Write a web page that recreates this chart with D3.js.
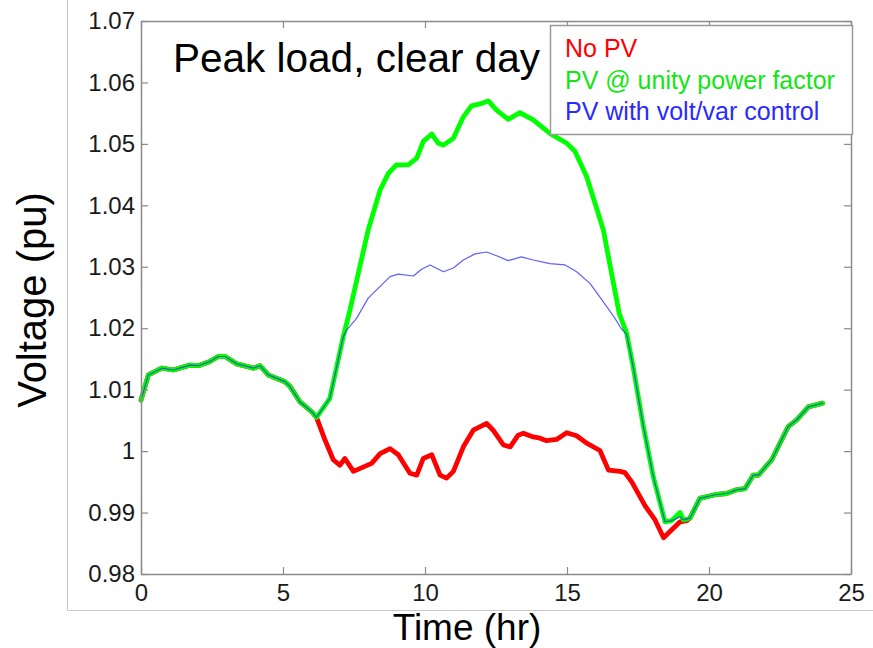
<!DOCTYPE html>
<html>
<head>
<meta charset="utf-8">
<script src="https://cdn.jsdelivr.net/npm/d3@7"></script>
<style>
  html, body { margin: 0; padding: 0; background: #fff; }
  svg { display: block; }
  text { font-family: "Liberation Sans", Arial, sans-serif; }
</style>
</head>
<body>
<svg id="chart" width="873" height="648"></svg>
<script>
// ---------------- data ----------------
const xTicks = [0, 5, 10, 15, 20, 25];
const yTicks = [0.98, 0.99, 1.00, 1.01, 1.02, 1.03, 1.04, 1.05, 1.06, 1.07];

// shared start (all three cases coincide, no PV output before ~6 h)
const tStart = [0, 0.26, 0.73, 1.14, 1.72, 2.02, 2.43, 2.72, 2.96, 3.37, 3.96, 4.19, 4.48, 5.07, 5.25, 5.6, 6.01, 6.18];
const vStart = [1.0083, 1.0124, 1.0135, 1.0132, 1.0140, 1.0139, 1.0146, 1.0154, 1.0154, 1.0142, 1.0135, 1.0139, 1.0124, 1.0113, 1.0105, 1.0080, 1.0064, 1.0055];

// shared end (after ~19.3 h)
const tEnd = [19.33, 19.68, 20.21, 20.62, 20.97, 21.27, 21.56, 21.74, 22.21, 22.79, 23.09, 23.5, 24.0];
const vEnd = [0.9891, 0.9923, 0.9929, 0.9931, 0.9937, 0.9939, 0.9961, 0.9961, 0.9986, 1.0040, 1.0051, 1.0072, 1.0078];

// No PV (middle part)
const tNoPV = [6.48, 6.77, 7.0, 7.18, 7.48, 8.12, 8.42, 8.77, 9.06, 9.47, 9.71, 9.94, 10.24, 10.53, 10.76, 11.0, 11.35, 11.7, 12.17, 12.4, 12.76, 13.0, 13.28, 13.46, 13.81, 14.05, 14.28, 14.63, 14.99, 15.34, 15.69, 16.16, 16.46, 16.87, 17.04, 17.28, 17.75, 18.1, 18.4, 18.98, 19.22];
const vNoPV = [1.0018, 0.9986, 0.9977, 0.9988, 0.9967, 0.9980, 0.9996, 1.0004, 0.9994, 0.9964, 0.9961, 0.9988, 0.9994, 0.9961, 0.9956, 0.9967, 1.0007, 1.0034, 1.0045, 1.0034, 1.0010, 1.0007, 1.0026, 1.0029, 1.0023, 1.0021, 1.0017, 1.0019, 1.0030, 1.0025, 1.0013, 1.0001, 0.9969, 0.9967, 0.9965, 0.9950, 0.9911, 0.9888, 0.9859, 0.9885, 0.9887];

// PV @ unity power factor (middle part)
const tUnity = [6.65, 7.12, 7.36, 7.65, 8.0, 8.42, 8.71, 9.0, 9.41, 9.71, 9.94, 10.24, 10.47, 10.65, 11.0, 11.35, 11.64, 12.0, 12.23, 12.52, 12.93, 13.34, 13.81, 14.4, 14.99, 15.28, 15.69, 15.99, 16.28, 16.57, 16.84, 17.1, 17.33, 17.69, 18.04, 18.45, 18.69, 18.98, 19.1];
const vUnity = [1.0086, 1.0186, 1.0230, 1.0289, 1.0360, 1.0425, 1.0452, 1.0466, 1.0466, 1.0477, 1.0504, 1.0516, 1.0501, 1.0498, 1.0509, 1.0544, 1.0562, 1.0566, 1.0570, 1.0555, 1.0540, 1.0551, 1.0539, 1.0517, 1.0501, 1.0488, 1.0447, 1.0403, 1.0360, 1.0289, 1.0224, 1.0192, 1.0137, 1.0040, 0.9958, 0.9885, 0.9887, 0.9900, 0.9888];

// PV with volt/var control (middle part)
const tVoltVar = [6.65, 7.12, 7.24, 7.59, 8.0, 8.42, 8.77, 9.06, 9.59, 9.88, 10.18, 10.65, 11.0, 11.35, 11.76, 12.17, 12.52, 12.93, 13.4, 13.81, 14.4, 14.93, 15.34, 15.81, 16.28, 16.69, 16.9, 17.1, 17.33, 17.69, 18.04, 18.45, 18.69, 18.98, 19.1];
const vVoltVar = [1.0086, 1.0186, 1.0197, 1.0216, 1.0249, 1.0268, 1.0284, 1.0288, 1.0285, 1.0296, 1.0303, 1.0292, 1.0298, 1.0311, 1.0321, 1.0324, 1.0318, 1.0310, 1.0316, 1.0311, 1.0305, 1.0303, 1.0292, 1.0273, 1.0243, 1.0216, 1.0200, 1.0190, 1.0137, 1.0040, 0.9958, 0.9885, 0.9887, 0.9893, 0.9888];

const seriesNames = ["No PV", "PV @ unity power factor", "PV with volt/var control"];
const seriesColors = ["#ff0000", "#00ff00", "#2a2aff"];
const legendColors = ["#ff0000", "#11e611", "#2a2aff"];
const titleText = "Peak load, clear day";
const xLabel = "Time (hr)";
const yLabel = "Voltage (pu)";

// ---------------- build ----------------
function build(tMid, vMid) {
  const t = tStart.concat(tMid, tEnd);
  const v = vStart.concat(vMid, vEnd);
  return t.map((d, i) => ({ t: d, v: v[i] }));
}
const series = [build(tNoPV, vNoPV), build(tUnity, vUnity), build(tVoltVar, vVoltVar)];

const svg = d3.select("#chart");
const L = 141, R = 851, T = 21, B = 574;
const x = d3.scaleLinear().domain([0, 25]).range([L, R]);
const y = d3.scaleLinear().domain([0.98, 1.07]).range([B, T]);

// outer slide frame
svg.append("path")
  .attr("d", `M67.5,0 V610.5 H873`)
  .attr("fill", "none").attr("stroke", "#c8c8c8").attr("stroke-width", 1);

// plot background
svg.append("rect").attr("x", L).attr("y", T).attr("width", R - L).attr("height", B - T).attr("fill", "#fff");

// lines
const line = d3.line().x(d => x(d.t)).y(d => y(d.v));
const widths = [4.8, 4.8, 1.2];
const opac = [1, 1, 0.75];
[0, 1, 2].forEach(i => {
  svg.append("path").datum(series[i])
    .attr("fill", "none")
    .attr("stroke", seriesColors[i])
    .attr("stroke-width", widths[i])
    .attr("stroke-opacity", opac[i])
    .attr("stroke-linejoin", "round")
    .attr("stroke-linecap", "round")
    .attr("d", line);
});

// axes
const fmt = d => String(+d.toFixed(2));
const axColor = "#8a8a8a";
function styleAxis(g) {
  g.selectAll(".domain").attr("stroke", axColor).attr("stroke-width", 1.5);
  g.selectAll(".tick line").attr("stroke", axColor).attr("stroke-width", 1.2);
  g.selectAll(".tick text").attr("fill", "#1a1a1a").style("font-size", "24px")
    .style("font-family", '"Liberation Sans", Arial, sans-serif');
}
svg.append("g").attr("transform", `translate(0,${B})`)
  .call(d3.axisBottom(x).tickValues(xTicks).tickFormat(fmt).tickSizeInner(-7).tickSizeOuter(0).tickPadding(10))
  .call(styleAxis);
svg.append("g").attr("transform", `translate(0,${T})`)
  .call(d3.axisTop(x).tickValues(xTicks).tickFormat("").tickSizeInner(-7).tickSizeOuter(0))
  .call(styleAxis);
svg.append("g").attr("transform", `translate(${L},0)`)
  .call(d3.axisLeft(y).tickValues(yTicks).tickFormat(fmt).tickSizeInner(-7).tickSizeOuter(0).tickPadding(6))
  .call(styleAxis);
svg.append("g").attr("transform", `translate(${R},0)`)
  .call(d3.axisRight(y).tickValues(yTicks).tickFormat("").tickSizeInner(-7).tickSizeOuter(0))
  .call(styleAxis);

// title
svg.append("text").attr("x", 173).attr("y", 72)
  .style("font-size", "40.5px").attr("fill", "#000").text(titleText);

// axis labels
svg.append("text").attr("x", 467).attr("y", 640).attr("text-anchor", "middle")
  .style("font-size", "37px").attr("fill", "#000").text(xLabel);
svg.append("text").attr("transform", "translate(46,300) rotate(-90)").attr("text-anchor", "middle")
  .style("font-size", "40px").attr("fill", "#000").text(yLabel);

// legend
const lg = svg.append("g");
lg.append("rect").attr("x", 550.5).attr("y", 25.5).attr("width", 302).attr("height", 109)
  .attr("fill", "#fff").attr("stroke", "#9a9a9a").attr("stroke-width", 1.5);
const legY = [56.5, 89, 120];
seriesNames.forEach((n, i) => {
  lg.append("text").attr("x", 565).attr("y", legY[i])
    .style("font-size", "25px").attr("fill", legendColors[i]).text(n);
});
</script>
</body>
</html>
